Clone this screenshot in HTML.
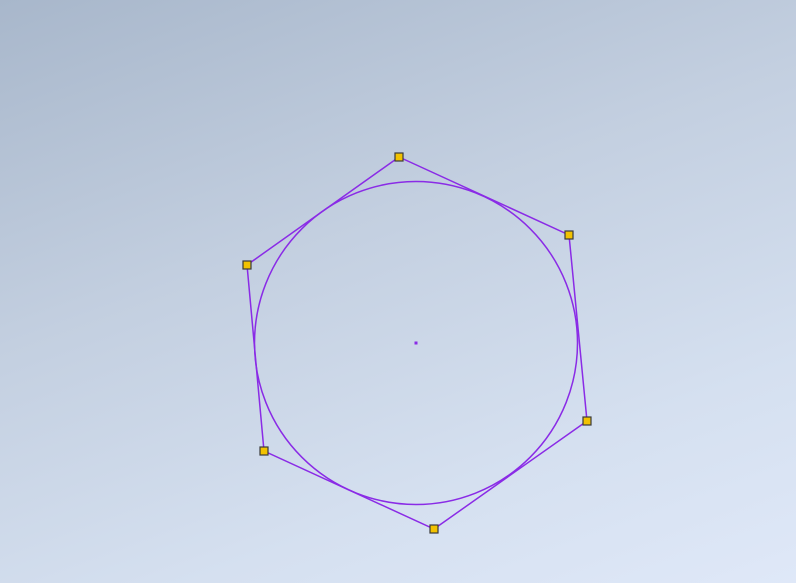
<!DOCTYPE html>
<html><head><meta charset="utf-8"><style>
html,body{margin:0;padding:0;width:796px;height:583px;overflow:hidden}
#bg{position:absolute;left:0;top:0;width:796px;height:583px;background:linear-gradient(160deg,#a8b7cb 0%,#c3cfe0 40%,#d5e0f0 75%,#dfe8f8 100%)}
</style></head><body>
<div id="bg">
<svg id="svg" width="796" height="583"></svg>
</div>
<script>
// sketch data (model units, origin at circle centre, y up)
const vertexX = [-17, 153, 171, 18, -152, -169];
const vertexY = [186, 108, -78, -186, -108, 78];
const circleRadius = [161.5];
const centre = [0, 0];

const ox = 416, oy = 343;
const sx = v => ox + v;
const sy = v => oy - v;
const NS = 'http://www.w3.org/2000/svg';
const svg = document.getElementById('svg');
const col = '#8a2be6';

const c = document.createElementNS(NS, 'circle');
c.setAttribute('cx', sx(centre[0])); c.setAttribute('cy', sy(centre[1]));
c.setAttribute('r', circleRadius[0]);
c.setAttribute('fill', 'none'); c.setAttribute('stroke', col); c.setAttribute('stroke-width', '1.5');


svg.appendChild(c);

const pts = vertexX.map((x, i) => sx(x) + ',' + sy(vertexY[i])).join(' ');
const pg = document.createElementNS(NS, 'polygon');
pg.setAttribute('points', pts);
pg.setAttribute('fill', 'none'); pg.setAttribute('stroke', col); pg.setAttribute('stroke-width', '1.5');


svg.appendChild(pg);

const cp = document.createElementNS(NS, 'rect');
cp.setAttribute('x', sx(centre[0]) - 1.5); cp.setAttribute('y', sy(centre[1]) - 1.5);
cp.setAttribute('width', 3); cp.setAttribute('height', 3); cp.setAttribute('fill', col);


svg.appendChild(cp);

vertexX.forEach((x, i) => {
  const r = document.createElementNS(NS, 'rect');
  r.setAttribute('x', sx(x) - 4); r.setAttribute('y', sy(vertexY[i]) - 4);
  r.setAttribute('width', 8); r.setAttribute('height', 8);
  r.setAttribute('fill', '#f2c200'); r.setAttribute('stroke', '#3a3a3a'); r.setAttribute('stroke-width', '1.2');
  
  
  svg.appendChild(r);
});
</script>
</body></html>
